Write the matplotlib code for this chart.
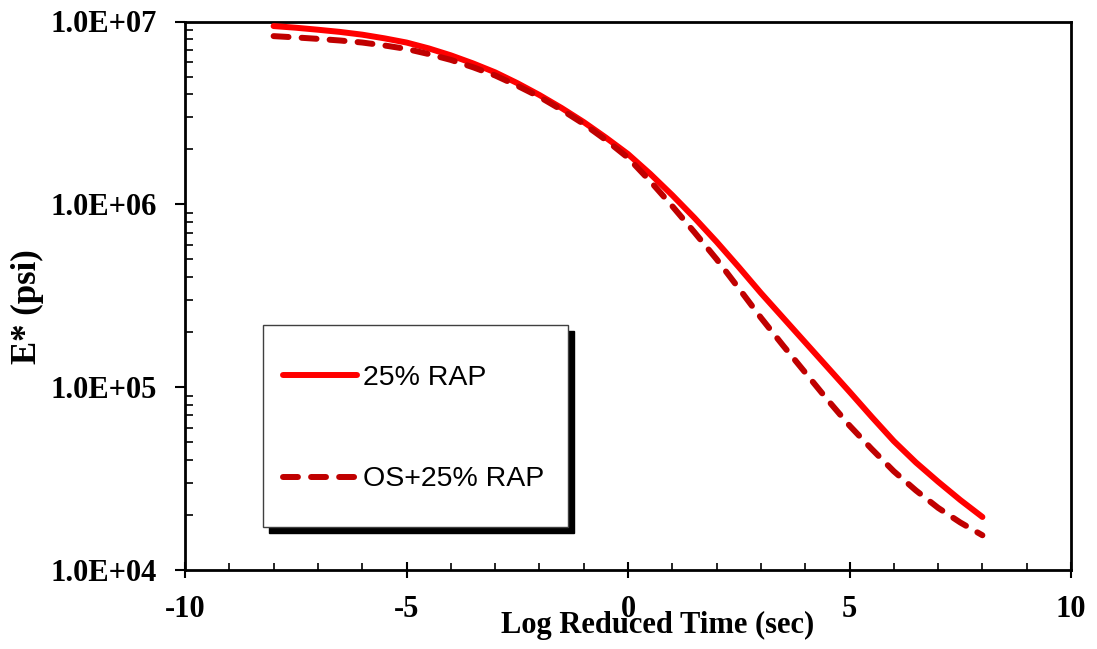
import numpy as np
import matplotlib
matplotlib.use("Agg")
import matplotlib.pyplot as plt
from matplotlib.ticker import MultipleLocator, LogLocator, FuncFormatter, NullFormatter
from matplotlib.patches import Rectangle

plt.rcParams["axes.unicode_minus"] = False

# master curves, as log10(E* in psi)
log_time = [-8, -7.5, -7, -6.5, -6, -5.5, -5, -4.5, -4, -3.5, -3, -2.5, -2, -1.5, -1, -0.5,
            0, 0.5, 1, 1.5, 2, 2.5, 3, 3.5, 4, 4.5, 5, 5.5, 6, 6.5, 7, 7.5, 8]
log_e_25rap = [6.975, 6.966, 6.955, 6.943, 6.928, 6.908, 6.885, 6.853, 6.815, 6.771, 6.722,
               6.663, 6.598, 6.527, 6.450, 6.365, 6.275, 6.167, 6.050, 5.926, 5.795, 5.657,
               5.515, 5.380, 5.245, 5.110, 4.975, 4.838, 4.705, 4.588, 4.483, 4.383, 4.290]
log_e_os_25rap = [6.920, 6.913, 6.905, 6.896, 6.885, 6.869, 6.850, 6.822, 6.790, 6.750, 6.705,
                  6.649, 6.588, 6.517, 6.440, 6.352, 6.255, 6.127, 5.990, 5.847, 5.700, 5.541,
                  5.380, 5.228, 5.080, 4.932, 4.790, 4.662, 4.540, 4.435, 4.340, 4.260, 4.190]
labels = ["25% RAP", "OS+25% RAP"]

serif = "Liberation Serif"
sans = "Liberation Sans"

e_25rap = 10 ** np.array(log_e_25rap)
e_os_25rap = 10 ** np.array(log_e_os_25rap)

fig = plt.figure(figsize=(10.97, 6.49), dpi=100)
ax = fig.add_axes([185 / 1097, 1 - 570 / 649, 886 / 1097, 548.5 / 649])

ax.plot(log_time, e_25rap, color="#FF0000", lw=4.3, solid_capstyle="round",
        solid_joinstyle="round", label=labels[0], zorder=3)
ax.plot(log_time, e_os_25rap, color="#C00000", lw=4.3, dashes=(2.5, 2.2),
        dash_capstyle="round", dash_joinstyle="round", label=labels[1], zorder=3)

ax.set_yscale("log")
ax.set_xlim(-10, 10)
ax.set_ylim(1e4, 1e7)

ax.xaxis.set_major_locator(MultipleLocator(5))
ax.xaxis.set_minor_locator(MultipleLocator(1))
ax.yaxis.set_major_locator(LogLocator(base=10, numticks=10))
ax.yaxis.set_minor_locator(LogLocator(base=10, subs=np.arange(2, 10), numticks=10))
ax.yaxis.set_major_formatter(FuncFormatter(lambda v, p: f"{v:.1E}"))
ax.yaxis.set_minor_formatter(NullFormatter())

ax.tick_params(axis="x", which="major", direction="inout", length=12, width=1.5, pad=12)
ax.tick_params(axis="x", which="minor", direction="in", length=5, width=1.2)
ax.tick_params(axis="y", which="major", direction="out", length=7, width=1.5, pad=13)
ax.tick_params(axis="y", which="minor", direction="in", length=6, width=1.2)
for lab in ax.get_xticklabels() + ax.get_yticklabels():
    lab.set_fontfamily(serif)
    lab.set_fontweight("bold")
    lab.set_fontsize(22)

for s in ax.spines.values():
    s.set_linewidth(2)
    s.set_color("black")

fig.text(658 / 1097, 1 - 625 / 649, "Log Reduced Time (sec)", ha="center", va="center",
         fontfamily=serif, fontweight="bold", fontsize=22)
fig.text(27 / 1097, 1 - 307 / 649, "E* (psi)", ha="center", va="center", rotation=90,
         fontfamily=serif, fontweight="bold", fontsize=25)

# legend box with hard black shadow
bx, by, bw, bh = 0.088, 0.078, 0.344, 0.369
ax.add_patch(Rectangle((bx + 0.0068, by - 0.011), bw, bh, transform=ax.transAxes,
                       facecolor="black", edgecolor="black", zorder=4))
ax.add_patch(Rectangle((bx, by), bw, bh, transform=ax.transAxes,
                       facecolor="white", edgecolor="#404040", lw=1, zorder=5))
leg = ax.legend(loc="center", bbox_to_anchor=(0.258, 0.2575), frameon=False,
                prop={"family": sans, "size": 20.5}, handlelength=2.6,
                handletextpad=0.2, labelspacing=2.65)
leg.set_zorder(6)

fig.savefig("out.png", dpi=100)
